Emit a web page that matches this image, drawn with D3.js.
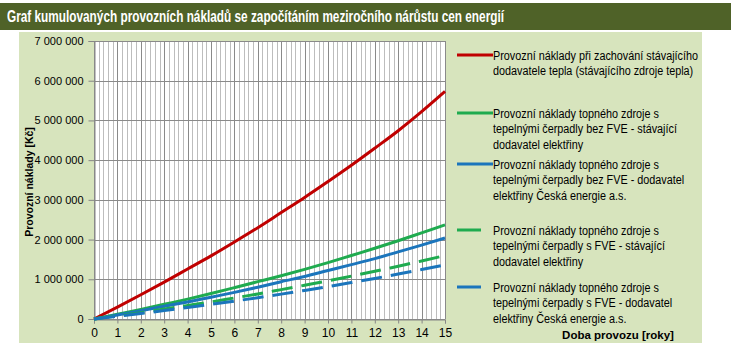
<!DOCTYPE html>
<html>
<head>
<meta charset="utf-8">
<script src="https://cdn.jsdelivr.net/npm/d3@7"></script>
<style>
  body { margin: 0; background: #fff; }
  text { font-family: "Liberation Sans", Arial, sans-serif; }
</style>
</head>
<body>
<script>
(function() {
  'use strict';

  const title = 'Graf kumulovaných provozních nákladů se započítáním meziročního nárůstu cen energií';
  const years = [0, 1, 2, 3, 4, 5, 6, 7, 8, 9, 10, 11, 12, 13, 14, 15];
  const yTicks = [0, 1000000, 2000000, 3000000, 4000000, 5000000, 6000000, 7000000];

  // cumulative costs in millions CZK
  const stavajici = [0, 0.30, 0.61, 0.93, 1.26, 1.59, 1.94, 2.30, 2.68, 3.06, 3.46, 3.87, 4.30, 4.74, 5.22, 5.73];
  const bezFveStav = [0, 0.12, 0.24, 0.37, 0.50, 0.64, 0.79, 0.94, 1.09, 1.25, 1.42, 1.60, 1.78, 1.97, 2.17, 2.37];
  const bezFveCe = [0, 0.10, 0.21, 0.32, 0.43, 0.55, 0.67, 0.80, 0.94, 1.07, 1.22, 1.37, 1.52, 1.69, 1.86, 2.04];
  const sFveStav = [0, 0.08, 0.16, 0.25, 0.34, 0.43, 0.53, 0.63, 0.74, 0.85, 0.96, 1.08, 1.20, 1.33, 1.46, 1.60];
  const sFveCe = [0, 0.068, 0.139, 0.212, 0.289, 0.369, 0.451, 0.537, 0.626, 0.719, 0.817, 0.917, 1.022, 1.131, 1.244, 1.361];

  const series = [
    { values: stavajici, color: '#C00000', dash: null,
      lines: ['Provozní náklady při zachování stávajícího', 'dodavatele tepla (stávajícího zdroje tepla)'], ly: 55 },
    { values: bezFveStav, color: '#1FAB4F', dash: null,
      lines: ['Provozní náklady topného zdroje s', 'tepelnými čerpadly bez FVE - stávající', 'dodavatel elektřiny'], ly: 113 },
    { values: bezFveCe, color: '#1B75BC', dash: null,
      lines: ['Provozní náklady topného zdroje s', 'tepelnými čerpadly bez FVE - dodavatel', 'elektřiny Česká energie a.s.'], ly: 164 },
    { values: sFveStav, color: '#1FAB4F', dash: '21,9',
      lines: ['Provozní náklady topného zdroje s', 'tepelnými čerpadly s FVE - stávající', 'dodavatel elektřiny'], ly: 230 },
    { values: sFveCe, color: '#1B75BC', dash: '21,9',
      lines: ['Provozní náklady topného zdroje s', 'tepelnými čerpadly s FVE - dodavatel', 'elektřiny Česká energie a.s.'], ly: 287 }
  ];

  const w = 735;
  const h = 353;

  const svg = d3.select('body').append('svg')
    .attr('width', w)
    .attr('height', h);

  // title bar
  svg.append('rect')
    .attr('x', 0).attr('y', 3).attr('width', 731).attr('height', 27)
    .attr('fill', '#4F6228');
  svg.append('text')
    .attr('x', 7).attr('y', 22)
    .attr('fill', '#fff')
    .attr('font-size', 16)
    .attr('font-weight', 'bold')
    .attr('textLength', 497)
    .attr('lengthAdjust', 'spacingAndGlyphs')
    .text(title);

  // chart area
  svg.append('rect')
    .attr('x', 19).attr('y', 32).attr('width', 683).attr('height', 311)
    .attr('fill', '#D7E4BD');

  const x = d3.scaleLinear().domain([0, 15]).range([94, 445]);
  const y = d3.scaleLinear().domain([0, 7000000]).range([319, 41]);

  svg.append('rect')
    .attr('x', x(0)).attr('y', y(7000000))
    .attr('width', x(15) - x(0)).attr('height', y(0) - y(7000000))
    .attr('fill', '#fff');

  // minor vertical grid every 0.2 year
  const minor = d3.range(0, 15.001, 0.2).filter(v => Math.abs(v - Math.round(v)) > 0.01);
  svg.append('g').selectAll('line')
    .data(minor)
    .enter().append('line')
    .attr('x1', d => Math.round(x(d)) + 0.5).attr('x2', d => Math.round(x(d)) + 0.5)
    .attr('y1', y(7000000)).attr('y2', y(0))
    .attr('stroke', '#BDBDBD').attr('stroke-width', 1);

  svg.append('g').selectAll('line')
    .data(years)
    .enter().append('line')
    .attr('x1', d => Math.round(x(d)) + 0.5).attr('x2', d => Math.round(x(d)) + 0.5)
    .attr('y1', y(7000000)).attr('y2', y(0))
    .attr('stroke', '#8A8A8A').attr('stroke-width', 1);

  svg.append('g').selectAll('line')
    .data(yTicks)
    .enter().append('line')
    .attr('x1', x(0)).attr('x2', x(15))
    .attr('y1', d => Math.round(y(d)) + 0.5).attr('y2', d => Math.round(y(d)) + 0.5)
    .attr('stroke', '#8A8A8A').attr('stroke-width', 1);

  // axes
  const locale = d3.formatLocale({ decimal: ',', thousands: ' ', grouping: [3], currency: ['', ''] });
  const fmt = locale.format(',');

  const yAxis = d3.axisLeft(y).tickValues(yTicks).tickFormat(fmt).tickSize(6).tickPadding(5);
  const gy = svg.append('g')
    .attr('transform', 'translate(' + (x(0) + 0.5) + ',0)')
    .call(yAxis);

  const xAxis = d3.axisBottom(x).tickValues(years).tickFormat(d3.format('d')).tickSize(4).tickPadding(5);
  const gx = svg.append('g')
    .attr('transform', 'translate(0,' + (y(0) + 0.5) + ')')
    .call(xAxis);

  [gy, gx].forEach(g => {
    g.select('.domain').attr('stroke', '#868686');
    g.selectAll('.tick line').attr('stroke', '#868686');
    g.selectAll('.tick text')
      .attr('fill', '#000')
      .attr('font-size', 11)
      .style('font-family', '"Liberation Sans", Arial, sans-serif');
  });
  gy.selectAll('.tick text').attr('x', -11);
  gx.selectAll('.tick text').attr('font-size', 12);

  // lines
  const line = d3.line()
    .x((d, i) => x(years[i]))
    .y(d => y(d * 1000000))
    .curve(d3.curveMonotoneX);

  series.forEach(s => {
    svg.append('path')
      .datum(s.values)
      .attr('d', line)
      .attr('fill', 'none')
      .attr('stroke', s.color)
      .attr('stroke-width', 3)
      .attr('stroke-dasharray', s.dash);
  });

  // axis titles
  svg.append('text')
    .attr('transform', 'translate(33,182) rotate(-90)')
    .attr('text-anchor', 'middle')
    .attr('font-size', 10.5)
    .attr('font-weight', 'bold')
    .text('Provozní náklady [Kč]');

  svg.append('text')
    .attr('x', 618).attr('y', 339)
    .attr('text-anchor', 'middle')
    .attr('font-size', 11.5)
    .attr('font-weight', 'bold')
    .text('Doba provozu  [roky]');

  // legend
  const legend = svg.append('g');
  const texts = [];
  series.forEach(s => {
    legend.append('line')
      .attr('x1', 457).attr('x2', s.dash ? 481 : 493)
      .attr('y1', s.ly).attr('y2', s.ly)
      .attr('stroke', s.color)
      .attr('stroke-width', 3);
    s.lines.forEach((txt, j) => {
      const tt = legend.append('text')
        .attr('x', 493)
        .attr('y', s.ly + 4.5 + j * 15.7)
        .attr('font-size', 12.5)
        .attr('fill', '#000')
        .text(txt);
      texts.push(tt);
    });
  });
  const k = 205 / texts[0].node().getComputedTextLength();
  texts.forEach(tt => {
    tt.attr('textLength', tt.node().getComputedTextLength() * k)
      .attr('lengthAdjust', 'spacingAndGlyphs');
  });
}());
</script>
</body>
</html>
